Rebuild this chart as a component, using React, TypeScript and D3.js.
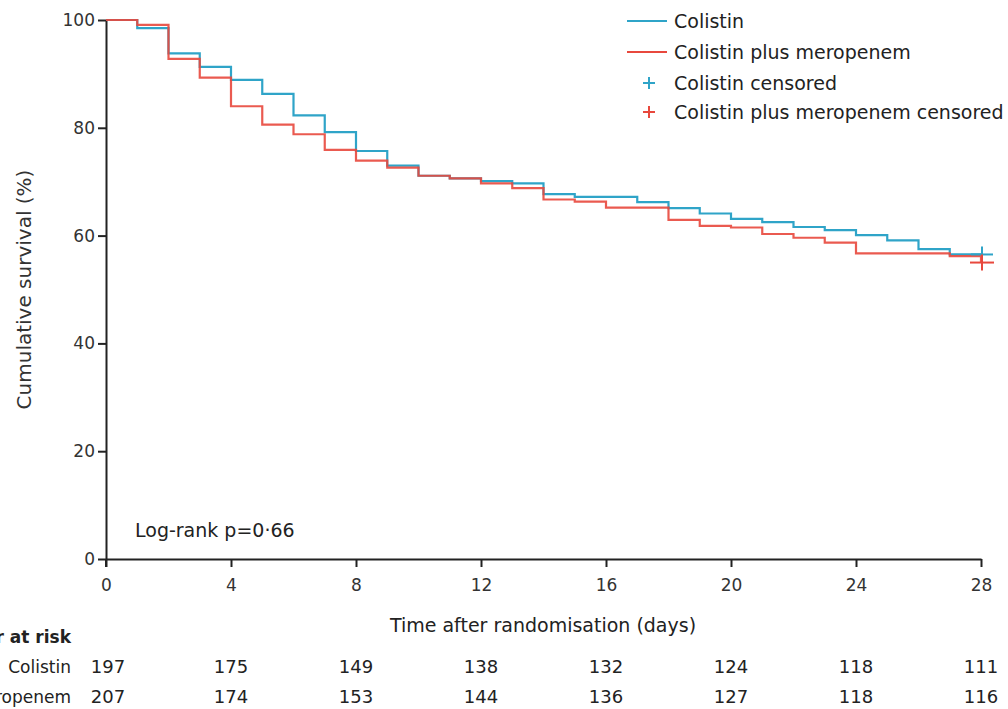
import React, { useEffect, useRef } from 'react';
import * as d3 from 'd3';

// day of each step (survival holds from this day until the next)
const days = [0, 1, 2, 3, 4, 5, 6, 7, 8, 9, 10, 11, 12, 13, 14, 15, 16, 17, 18, 19, 20, 21, 22, 23, 24, 25, 26, 27, 28];

const colistin = [100, 98.5, 93.8, 91.3, 88.9, 86.3, 82.3, 79.2, 75.7, 73.0, 71.1, 70.6, 70.1, 69.7, 67.7, 67.2, 67.2, 66.2, 65.1, 64.1, 63.1, 62.5, 61.6, 61.0, 60.1, 59.1, 57.5, 56.5, 56.5];
const colistinMero = [100, 99.1, 92.8, 89.3, 84.0, 80.6, 78.8, 75.9, 73.9, 72.6, 71.1, 70.6, 69.7, 68.8, 66.7, 66.3, 65.2, 65.2, 62.9, 61.8, 61.5, 60.3, 59.6, 58.7, 56.7, 56.7, 56.7, 56.2, 55.0];

// censoring marks [day, survival]
const censorColistin = [[28, 56.5]];
const censorMero = [[28, 55.0]];

const xTicks = [0, 4, 8, 12, 16, 20, 24, 28];
const yTicks = [0, 20, 40, 60, 80, 100];

const riskDays = [0, 4, 8, 12, 16, 20, 24, 28];
const riskColistin = [197, 175, 149, 138, 132, 124, 118, 111];
const riskMero = [207, 174, 153, 144, 136, 127, 118, 116];

const seriesNames = ['Colistin', 'Colistin plus meropenem', 'Colistin censored', 'Colistin plus meropenem censored'];

const BLUE = '#2fa4c8';
const RED = '#e8483d';
const FONT = '"DejaVu Sans", sans-serif';
const FS = '19px';      // labels and titles
const FS_TICK = '17px'; // axis numbers
const FS_NUM = '18px';  // at-risk numbers
const FS_ROW = '17px';  // at-risk row labels

const App = () => {
  const svgRef = useRef<SVGSVGElement>(null);

  useEffect(() => {
    const width = 1008;
    const height = 709;

    const svg = d3.select(svgRef.current);
    svg.selectAll('*').remove();
    svg.attr('width', width).attr('height', height);

    const x = d3.scaleLinear().domain([0, 28]).range([106, 981]);
    const y = d3.scaleLinear().domain([0, 100]).range([559, 20]);

    // axes
    const yAxis = svg.append('g')
      .attr('transform', `translate(${x(0)},0)`)
      .call(d3.axisLeft(y).tickValues(yTicks).tickSize(8).tickPadding(3).tickSizeOuter(0));
    const xAxis = svg.append('g')
      .attr('transform', `translate(0,${y(0)})`)
      .call(d3.axisBottom(x).tickValues(xTicks).tickSize(8).tickPadding(12).tickSizeOuter(0));

    [xAxis, yAxis].forEach(a => {
      a.select('.domain').attr('stroke', '#222').attr('stroke-width', 2);
      a.selectAll('.tick line').attr('stroke', '#222').attr('stroke-width', 2);
      a.selectAll('.tick text')
        .attr('fill', '#333')
        .style('font-family', FONT)
        .style('font-size', FS_TICK);
    });
    // y axis runs a little under the x axis like the original
    svg.append('line')
      .attr('x1', x(0)).attr('x2', x(0))
      .attr('y1', y(0)).attr('y2', y(0) + 8)
      .attr('stroke', '#222').attr('stroke-width', 2);

    // step curves
    const line = d3.line<number>()
      .x((d, i) => x(days[i]))
      .y(d => y(d))
      .curve(d3.curveStepAfter);

    svg.append('path')
      .datum(colistin)
      .attr('d', line)
      .attr('fill', 'none')
      .attr('stroke', BLUE)
      .attr('stroke-width', 2.2);

    svg.append('path')
      .datum(colistinMero)
      .attr('d', line)
      .attr('fill', 'none')
      .attr('stroke', RED)
      .attr('stroke-width', 2.2)
      .attr('stroke-opacity', 0.9);

    const cross = (g, cx, cy, color, hw, hh) => {
      g.append('line').attr('x1', cx - hw).attr('x2', cx + hw).attr('y1', cy).attr('y2', cy)
        .attr('stroke', color).attr('stroke-width', 2);
      g.append('line').attr('x1', cx).attr('x2', cx).attr('y1', cy - hh).attr('y2', cy + hh)
        .attr('stroke', color).attr('stroke-width', 2);
    };

    censorColistin.forEach(d => cross(svg, x(d[0]) + 1, y(d[1]), BLUE, 11, 8));
    censorMero.forEach(d => cross(svg, x(d[0]) + 1, y(d[1]), RED, 12, 8));

    // legend
    const legend = svg.append('g').attr('transform', 'translate(627,0)');
    const rowY = [21, 52, 83, 112];
    seriesNames.forEach((name, i) => {
      const color = i % 2 === 0 ? BLUE : RED;
      if (i < 2) {
        legend.append('line')
          .attr('x1', 0).attr('x2', 40)
          .attr('y1', rowY[i]).attr('y2', rowY[i])
          .attr('stroke', color).attr('stroke-width', 2);
      } else {
        cross(legend, 22, rowY[i], color, 6, 6);
      }
      legend.append('text')
        .attr('x', 47)
        .attr('y', rowY[i])
        .attr('dy', '0.35em')
        .attr('fill', '#222')
        .style('font-family', FONT)
        .style('font-size', FS)
        .text(name);
    });

    // annotation
    svg.append('text')
      .attr('x', 135).attr('y', 530).attr('dy', '0.35em')
      .attr('fill', '#222')
      .style('font-family', FONT).style('font-size', FS)
      .text('Log-rank p=0·66');

    // axis titles
    svg.append('text')
      .attr('transform', `translate(24,${(y(0) + y(100)) / 2}) rotate(-90)`)
      .attr('text-anchor', 'middle')
      .attr('dy', '0.35em')
      .attr('fill', '#333')
      .style('font-family', FONT).style('font-size', '20px')
      .text('Cumulative survival (%)');

    svg.append('text')
      .attr('x', 543).attr('y', 625).attr('dy', '0.35em')
      .attr('text-anchor', 'middle')
      .attr('fill', '#222')
      .style('font-family', FONT).style('font-size', FS)
      .text('Time after randomisation (days)');

    // number at risk table
    svg.append('text')
      .attr('x', 71).attr('y', 637).attr('dy', '0.35em')
      .attr('text-anchor', 'end')
      .attr('fill', '#222')
      .style('font-family', FONT).style('font-size', FS_ROW).style('font-weight', 'bold')
      .text('Number at risk');

    const rows = [
      { label: 'Colistin', values: riskColistin, yPos: 667 },
      { label: 'Colistin plus meropenem', values: riskMero, yPos: 697 },
    ];
    rows.forEach(r => {
      svg.append('text')
        .attr('x', 71).attr('y', r.yPos).attr('dy', '0.35em')
        .attr('text-anchor', 'end')
        .attr('fill', '#222')
        .style('font-family', FONT).style('font-size', FS_ROW)
        .text(r.label);
      svg.selectAll(null)
        .data(r.values)
        .enter()
        .append('text')
        .attr('x', (d, i) => x(riskDays[i]) + (i === 0 ? 2 : 0))
        .attr('y', r.yPos)
        .attr('dy', '0.35em')
        .attr('text-anchor', 'middle')
        .attr('fill', '#222')
        .style('font-family', FONT).style('font-size', FS_NUM)
        .text(d => d);
    });
  }, []);

  return (
    <svg
      ref={svgRef}
      style={{ position: 'absolute', left: 0, top: 0, background: '#fff' }}
    ></svg>
  );
};

export default App;
